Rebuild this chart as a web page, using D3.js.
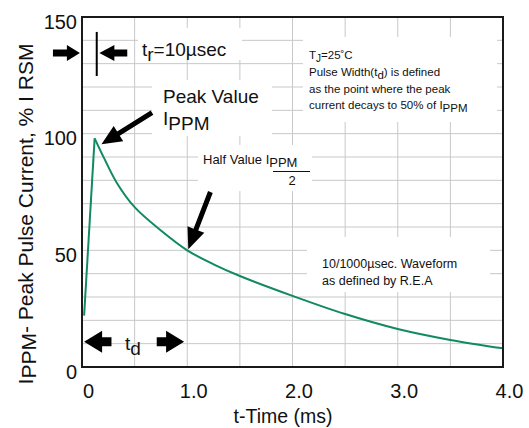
<!DOCTYPE html>
<html>
<head>
<meta charset="utf-8">
<script src="https://cdn.jsdelivr.net/npm/d3@7"></script>
<style>
  body { margin: 0; background: #fff; }
  svg { display: block; font-family: "Liberation Sans", Arial, sans-serif; }
  .grid line { stroke: #c8c8c8; stroke-width: 1; }
  .axis text { fill: #111; }
</style>
</head>
<body>
<svg></svg>
<script>
// 10/1000 usec pulse waveform
var timeMs = [0.02, 0.12, 0.21, 0.33, 0.5, 0.75, 1.0, 1.25, 1.5, 2.0, 2.5, 3.0, 3.5, 4.0];
var currentPct = [22, 98, 89.5, 79, 68.5, 58.5, 50, 44, 39, 30.5, 22.7, 16.3, 11.6, 8.0];

var xTicks = [0, 1, 2, 3, 4];
var xTickLabels = ["0", "1.0", "2.0", "3.0", "4.0"];
var yTicks = [0, 50, 100, 150];
var xGrid = [0.5, 1, 1.5, 2, 2.5, 3, 3.5];
var yGrid = [10, 20, 30, 40, 50, 60, 70, 80, 90, 100, 110, 120, 130, 140];

// note: "top" is taken by window.top, so plot edges get a prefix
var width = 529,
    height = 428,
    plotLeft = 82,
    plotTop = 17,
    plotRight = 503,
    plotBottom = 367;

var svg = d3.select("svg")
    .attr("width", width)
    .attr("height", height);

var x = d3.scaleLinear().domain([0, 4]).range([plotLeft, plotRight]);
var y = d3.scaleLinear().domain([0, 150]).range([plotBottom, plotTop]);

// grid
var grid = svg.append("g").attr("class", "grid");
grid.selectAll(".vx").data(xGrid).enter().append("line")
    .attr("x1", d => x(d)).attr("x2", d => x(d))
    .attr("y1", plotTop).attr("y2", plotBottom);
grid.selectAll(".hy").data(yGrid).enter().append("line")
    .attr("x1", plotLeft).attr("x2", plotRight)
    .attr("y1", d => y(d)).attr("y2", d => y(d));

// white boxes behind the notes (they cut the grid)
var boxes = [
    [138, 28, 104, 32],
    [152, 80, 120, 56],
    [198, 145, 114, 46],
    [303, 37, 194, 85],
    [307, 237, 183, 55]
];
svg.append("g").selectAll("rect").data(boxes).enter().append("rect")
    .attr("x", d => d[0]).attr("y", d => d[1])
    .attr("width", d => d[2]).attr("height", d => d[3])
    .attr("fill", "#fff");

// waveform: linear rise, smooth decay
var pts = timeMs.map((t, i) => [t, currentPct[i]]);
var line = d3.line().x(d => x(d[0])).y(d => y(d[1]));
svg.append("path")
    .attr("d", line(pts.slice(0, 2)))
    .attr("fill", "none").attr("stroke", "#108a5e").attr("stroke-width", 2);
svg.append("path")
    .attr("d", line.curve(d3.curveCatmullRom.alpha(0.5))(pts.slice(1)))
    .attr("fill", "none").attr("stroke", "#108a5e").attr("stroke-width", 2);

// frame
svg.append("rect")
    .attr("x", plotLeft).attr("y", plotTop)
    .attr("width", plotRight - plotLeft).attr("height", plotBottom - plotTop)
    .attr("fill", "none").attr("stroke", "#1a1a1a").attr("stroke-width", 2);

// axes
var yAxis = svg.append("g").attr("class", "axis")
    .attr("transform", "translate(" + plotLeft + ",0)")
    .call(d3.axisLeft(y).tickValues(yTicks).tickSize(0).tickPadding(5));
var xAxis = svg.append("g").attr("class", "axis")
    .attr("transform", "translate(0," + plotBottom + ")")
    .call(d3.axisBottom(x).tickValues(xTicks).tickSize(0).tickPadding(17)
        .tickFormat((d, i) => xTickLabels[i]));
svg.selectAll(".axis .domain").remove();
svg.selectAll(".axis text").attr("font-size", 20).attr("font-family", null);
yAxis.selectAll("text").attr("dy", "0.55em");
xAxis.selectAll("text").attr("x", 6).attr("dy", "0.68em");

// rich text helper: parts = [[text, shift, size]]
function label(px, py, parts, size, anchor, rotate) {
    var t = svg.append("text")
        .attr("transform", "translate(" + px + "," + py + ")" + (rotate ? " rotate(" + rotate + ")" : ""))
        .attr("font-size", size)
        .attr("fill", "#111")
        .attr("text-anchor", anchor || "start");
    var prev = 0;
    parts.forEach(p => {
        var s = p[1] || 0;
        var ts = t.append("tspan").text(p[0]).attr("dy", s - prev);
        if (p[2]) ts.attr("font-size", p[2]);
        prev = s;
    });
    return t;
}

label(283, 423, [["t-Time (ms)"]], 19.5, "middle");
label(33, 214, [["I"], ["PPM", 3], ["- Peak Pulse Current, % I RSM", 0]], 21, "middle", -90);

label(142, 56, [["t"], ["r", 5], ["=10µsec", 0]], 19);
label(163, 103, [["Peak Value"]], 19);
label(163, 125, [["I"], ["PPM", 5]], 19);
label(203, 164, [["Half Value "], ["I"], ["PPM", 3]], 13);
label(292, 185, [["2"]], 13, "middle");
svg.append("line")
    .attr("x1", 273).attr("x2", 310).attr("y1", 171.5).attr("y2", 171.5)
    .attr("stroke", "#111").attr("stroke-width", 1);

label(309, 59, [["T"], ["J", 3, 10], ["=25˚C", 0]], 11.5);
label(309, 76, [["Pulse Width(t"], ["d", 3], [") is defined", 0]], 11.5);
label(309, 92.7, [["as the point where the peak"]], 11.5);
label(309, 109.3, [["current decays to 50% of I"], ["PPM", 3]], 11.5);

label(322, 268, [["10/1000µsec. Waveform"]], 12.5);
label(322, 284.5, [["as defined by R.E.A"]], 12.5);

label(125, 350, [["t"], ["d", 5]], 19);

// arrows in data coordinates
function arrow(t0, v0, t1, v1, shaft, headL, headW) {
    var x0 = x(t0), y0 = y(v0), x1 = x(t1), y1 = y(v1);
    var dx = x1 - x0, dy = y1 - y0, len = Math.hypot(dx, dy);
    var ux = dx / len, uy = dy / len, nx = -uy, ny = ux;
    var bx = x1 - ux * headL, by = y1 - uy * headL;
    var p = [
        [x0 + nx * shaft / 2, y0 + ny * shaft / 2],
        [bx + nx * shaft / 2, by + ny * shaft / 2],
        [bx + nx * headW / 2, by + ny * headW / 2],
        [x1, y1],
        [bx - nx * headW / 2, by - ny * headW / 2],
        [bx - nx * shaft / 2, by - ny * shaft / 2],
        [x0 - nx * shaft / 2, y0 - ny * shaft / 2]
    ];
    svg.append("polygon").attr("points", p.join(" ")).attr("fill", "#000");
}

arrow(-0.276, 134.6, -0.02, 134.6, 7, 13, 16);
arrow(0.43, 134.6, 0.165, 134.6, 7, 15, 16);
svg.append("line")
    .attr("x1", x(0.14)).attr("x2", x(0.14))
    .attr("y1", y(143.6)).attr("y2", y(124.7))
    .attr("stroke", "#000").attr("stroke-width", 2);

arrow(0.665, 109, 0.185, 95.5, 5, 20, 18);
arrow(1.22, 75, 1.01, 50.5, 5, 21, 18);

arrow(0.28, 10.8, 0.02, 10.8, 9, 18, 22);
arrow(0.71, 10.8, 0.97, 10.8, 9, 18, 22);
</script>
</body>
</html>
